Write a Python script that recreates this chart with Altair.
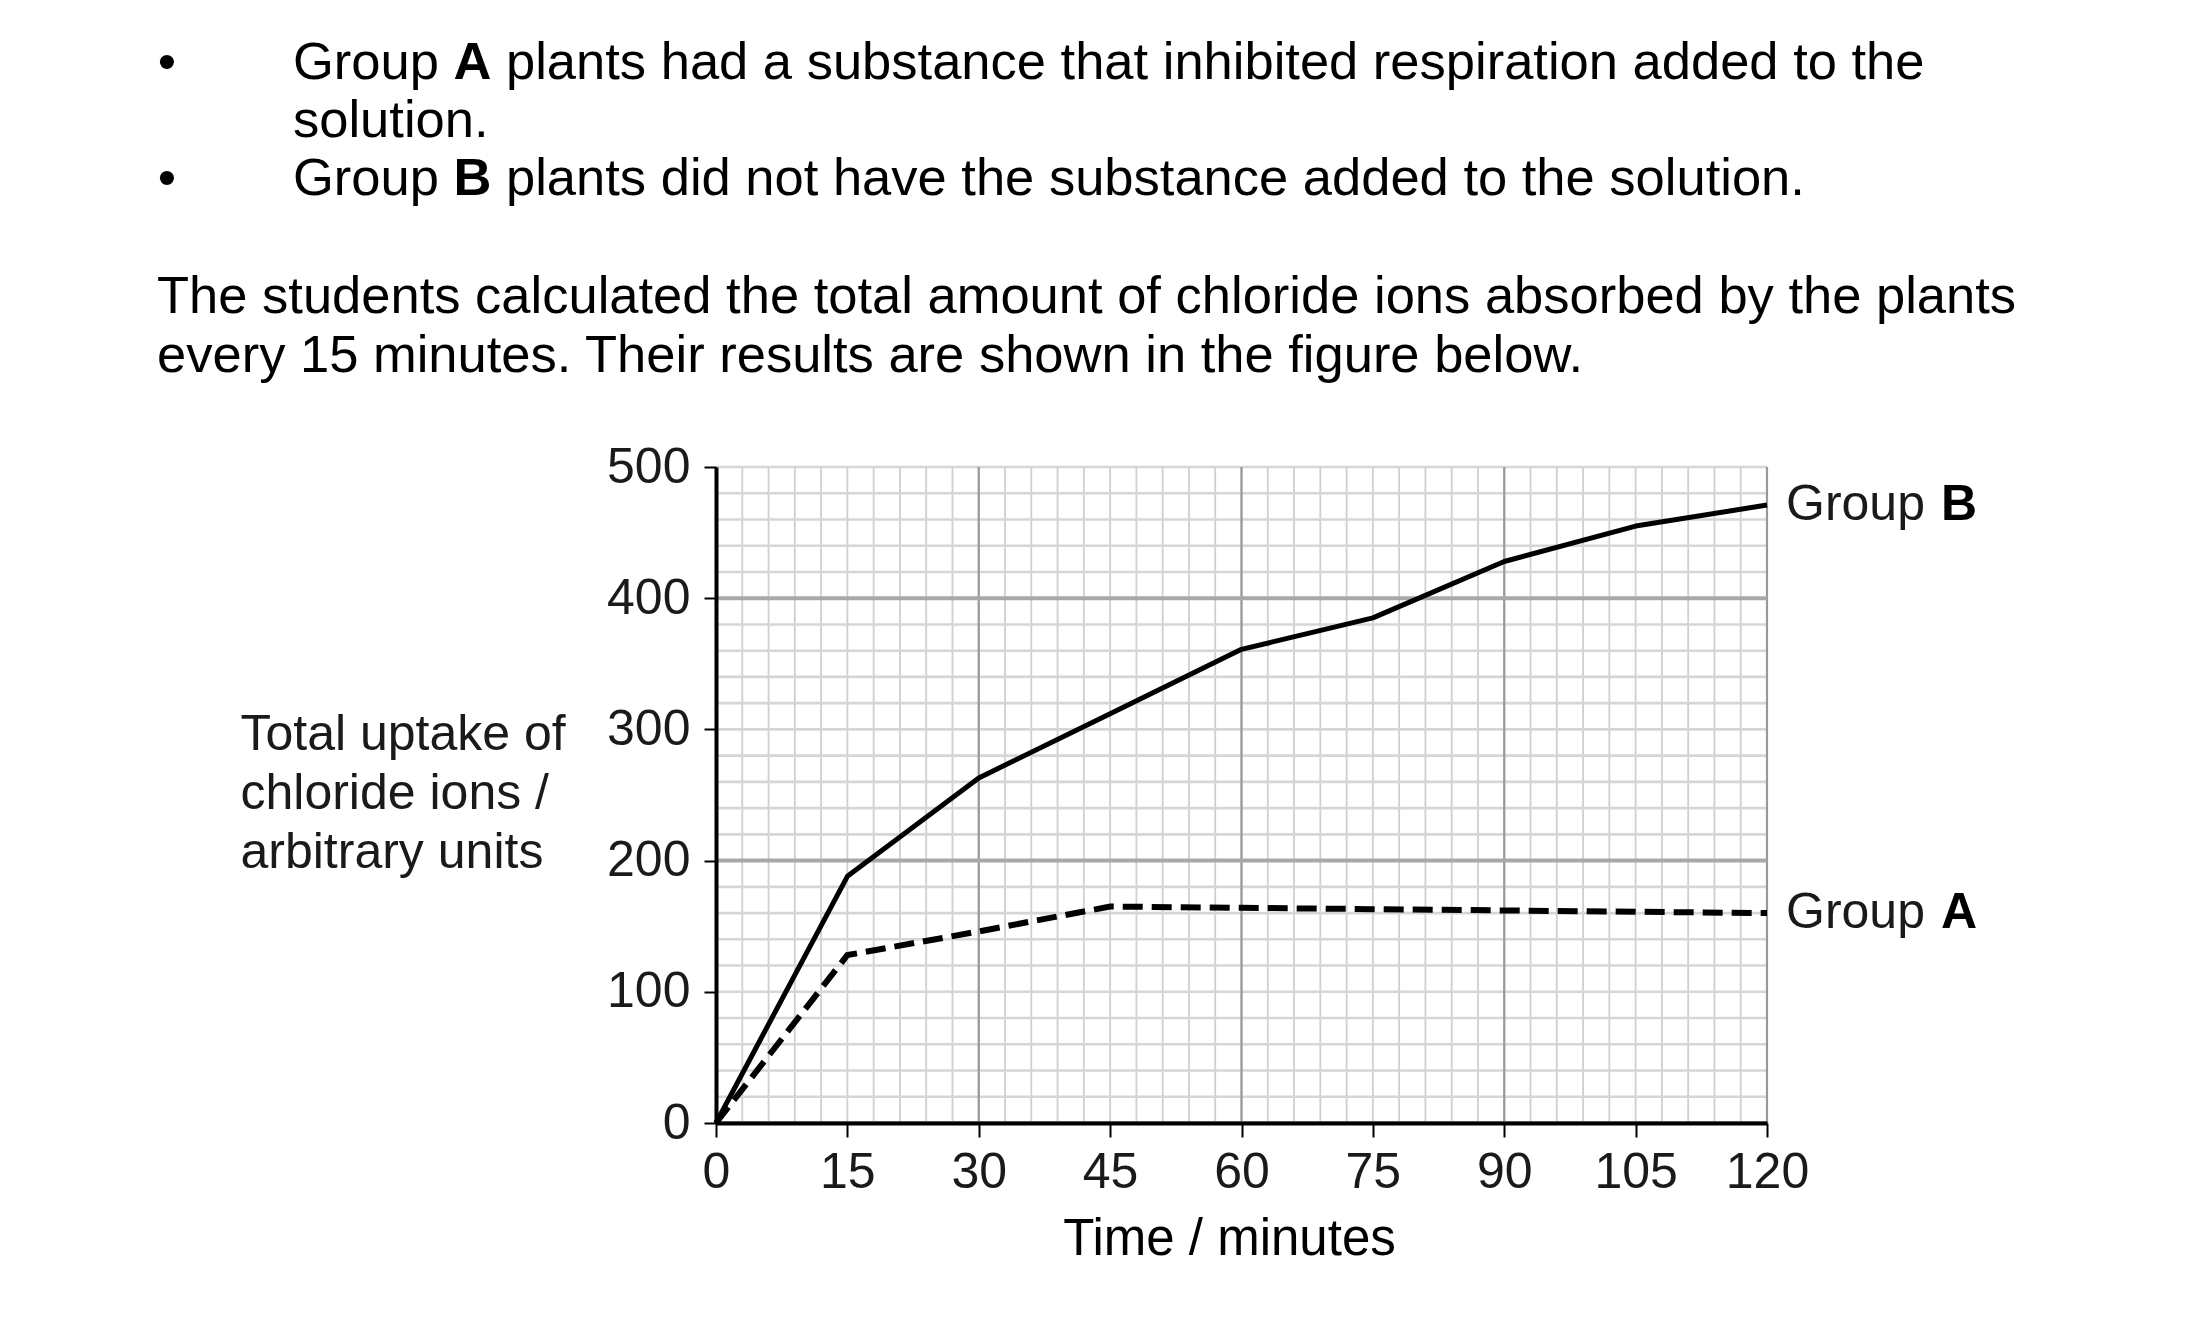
import altair as alt
import pandas as pd

# ---- data ----
time_min = [0, 15, 30, 45, 60, 75, 90, 105, 120]
group_a = [0, 128, 146, 165, 164, 163, 162, 161, 160]
group_b = [0, 188, 263, 312, 361, 385, 428, 455, 471]

x_ticks = [0, 15, 30, 45, 60, 75, 90, 105, 120]
y_ticks = [0, 100, 200, 300, 400, 500]
grid_x_minor = list(range(0, 121, 3))
grid_y_minor = list(range(0, 501, 20))
grid_x_major = [0, 30, 60, 90, 120]
grid_y_major = [0, 200, 400]

y_title = ["Total uptake of", "chloride ions /", "arbitrary units"]
x_title = "Time / minutes"

FONT = "Liberation Sans, Arial, Helvetica, sans-serif"
TXT = "#1a1a1a"

df = pd.DataFrame({
    "time": time_min * 2,
    "value": group_a + group_b,
    "group": ["Group A"] * len(time_min) + ["Group B"] * len(time_min),
})
df_end = pd.DataFrame({
    "time": [time_min[-1], time_min[-1]],
    "value": [group_a[-1], group_b[-1]],
    "word": ["Group", "Group"],
    "letter": ["A", "B"],
})

xs = alt.Scale(domain=[0, 120], nice=False, zero=False)
ys = alt.Scale(domain=[0, 500], nice=False)

x_axis = alt.Axis(values=x_ticks, grid=False, domainColor="black", domainWidth=4,
                  tickColor="black", tickWidth=2, tickSize=14, labelPadding=10,
                  labelFontSize=50, labelFont=FONT, labelColor=TXT, labelFlush=False,
                  title=x_title, titleFont=FONT, titleFontSize=51, titleFontWeight="normal",
                  titleColor="black", titleX=513, titleY=131, titleAlign="center",
                  titleBaseline="alphabetic", zindex=2)
y_axis = alt.Axis(values=y_ticks, grid=False, domainColor="black", domainWidth=4,
                  tickColor="black", tickWidth=2, tickSize=12, labelPadding=14,
                  labelFontSize=50, labelFont=FONT, labelColor=TXT, labelFlush=False,
                  title=y_title, titleFont=FONT, titleFontSize=50, titleFontWeight="normal",
                  titleColor=TXT, titleAngle=0, titleAlign="left", titleBaseline="alphabetic",
                  titleX=-476, titleY=282, titleLineHeight=59, zindex=2)

X = lambda f: alt.X(f, scale=xs, axis=x_axis)
Y = lambda f: alt.Y(f, scale=ys, axis=y_axis)

vminor = alt.Chart(pd.DataFrame({"gx": grid_x_minor})).mark_rule(
    color="#cfcfcf", strokeWidth=1.8).encode(x=X("gx:Q"))
hminor = alt.Chart(pd.DataFrame({"gy": grid_y_minor})).mark_rule(
    color="#d6d6d6", strokeWidth=2.6).encode(y=Y("gy:Q"))
vmajor = alt.Chart(pd.DataFrame({"gx": grid_x_major})).mark_rule(
    color="#999999", strokeWidth=2.2).encode(x=X("gx:Q"))
hmajor = alt.Chart(pd.DataFrame({"gy": grid_y_major})).mark_rule(
    color="#a8a8a8", strokeWidth=4).encode(y=Y("gy:Q"))

line_b = alt.Chart(df[df.group == "Group B"]).mark_line(
    color="black", strokeWidth=5, strokeJoin="round").encode(
    x=X("time:Q"), y=Y("value:Q"), order="time:Q")
line_a = alt.Chart(df[df.group == "Group A"]).mark_line(
    color="black", strokeWidth=6, strokeDash=[20, 9], strokeJoin="miter").encode(
    x=X("time:Q"), y=Y("value:Q"), order="time:Q")

end_word = alt.Chart(df_end).mark_text(
    align="left", baseline="middle", dx=19, fontSize=50, font=FONT, color=TXT).encode(
    x=X("time:Q"), y=Y("value:Q"), text="word:N")
end_letter = alt.Chart(df_end).mark_text(
    align="left", baseline="middle", dx=174, fontSize=50, font=FONT, fontWeight="bold",
    color="black").encode(x=X("time:Q"), y=Y("value:Q"), text="letter:N")


def txt(s, x, y, bold=False, size=52.5, align="left"):
    return alt.Chart(pd.DataFrame({"t": [s]})).mark_text(
        align=align, baseline="alphabetic", fontSize=size, font=FONT,
        fontWeight="bold" if bold else "normal", color="black").encode(
        text="t:N", x=alt.value(x), y=alt.value(y))


header = [
    txt("\u2022", -549, -388, align="center"),
    txt("Group", -423, -388),
    txt("A", -262.5, -388, bold=True),
    txt("plants had a substance that inhibited respiration added to the", -210, -388),
    txt("solution.", -423, -330),
    txt("\u2022", -549, -272, align="center"),
    txt("Group", -423, -272),
    txt("B", -262.5, -272, bold=True),
    txt("plants did not have the substance added to the solution.", -210, -272),
    txt("The students calculated the total amount of chloride ions absorbed by the plants", -559, -154),
    txt("every 15 minutes. Their results are shown in the figure below.", -559, -95),
]

chart = alt.layer(
    vminor, hminor, vmajor, hmajor, line_a, line_b, end_word, end_letter, *header
).properties(
    width=1051, height=656,
    padding={"left": 716, "top": 467, "right": 421, "bottom": 203},
    autosize=alt.AutoSizeParams(type="none"),
    background="white",
).configure_view(stroke=None)

chart.save("out.html", embed_options={"renderer": "svg", "actions": False})
